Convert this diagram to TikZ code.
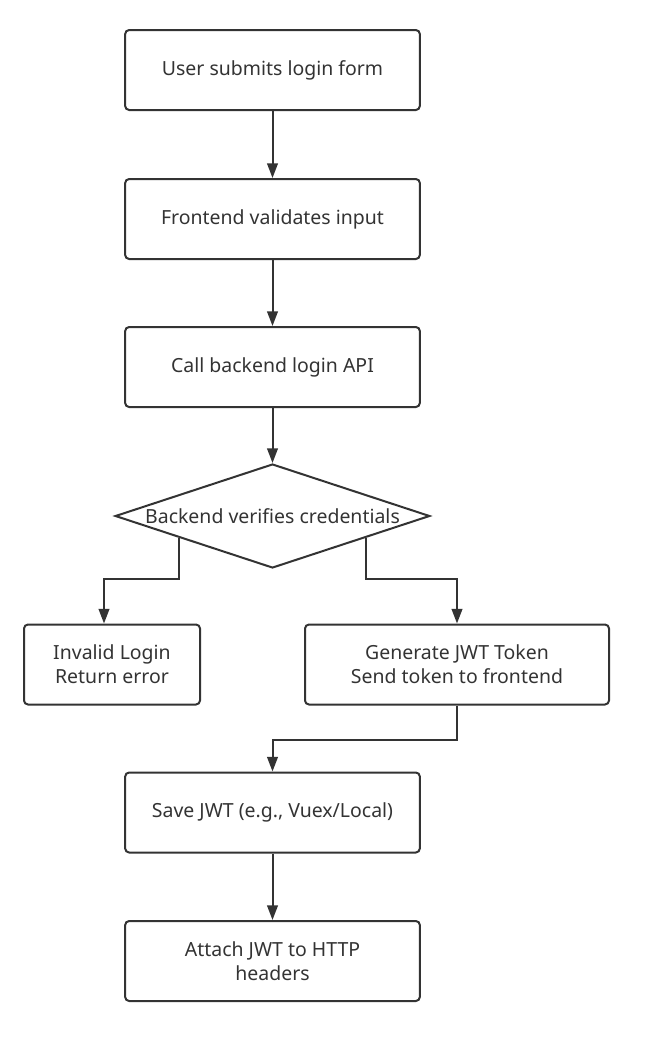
\documentclass[tikz,border=0pt]{standalone}
\usepackage{fontspec}
\setmainfont{Noto Sans}
\usetikzlibrary{arrows.meta, shapes.geometric, calc}

\definecolor{ink}{HTML}{333333}

\tikzset{
    stepbox/.style={draw=ink, line width=1.5pt, rounded corners=3pt, text=ink,
        align=center, font=\fontsize{14.6}{18}\selectfont},
    flow/.style={draw=ink, line width=1.5pt, -{Triangle[width=8pt,length=11pt]}}
}

\begin{document}
\begin{tikzpicture}[x=0.75pt, y=-0.75pt]
    \useasboundingbox (0, 0) rectangle (647, 1050);

    \node[stepbox, minimum width=221pt, minimum height=60pt] (submit) at (272.5, 70) {User submits login form};
    \node[stepbox, minimum width=221pt, minimum height=60pt] (validate) at (272.5, 219) {Frontend validates input};
    \node[stepbox, minimum width=221pt, minimum height=60pt] (callapi) at (272.5, 367) {Call backend login API};

    \node[diamond, draw=ink, line width=1.5pt, text=ink, aspect=3, inner sep=0pt,
        minimum width=236pt, minimum height=78pt, font=\fontsize{14.6}{18}\selectfont] (verify) at (272.5, 516) {Backend verifies credentials};

    \node[stepbox, minimum width=132pt, minimum height=60pt] (invalid) at (112, 664.5) {Invalid Login\\Return error};
    \node[stepbox, minimum width=228pt, minimum height=60pt] (token) at (457, 664.5) {Generate JWT Token\\Send token to frontend};

    \node[stepbox, minimum width=221pt, minimum height=60pt] (save) at (272.5, 812.5) {Save JWT (e.g., Vuex/Local)};
    \node[stepbox, minimum width=221pt, minimum height=60pt] (attach) at (272.5, 961) {Attach JWT to HTTP\\headers};

    \draw[flow] (submit) -- (validate);
    \draw[flow] (validate) -- (callapi);
    \draw[flow] (callapi) -- (verify);

    \draw[flow] ($(verify.west)!0.41!(verify.south)$) |- ($(invalid.north)+(-8, -45)$) -- ($(invalid.north)+(-8, 0)$);
    \draw[flow] ($(verify.east)!0.41!(verify.south)$) |- ($(token.north)+(0, -45)$) -- (token.north);

    \draw[flow] (token.south) |- ($(save.north)+(0, -32)$) -- (save.north);
    \draw[flow] (save) -- (attach);
\end{tikzpicture}
\end{document}
